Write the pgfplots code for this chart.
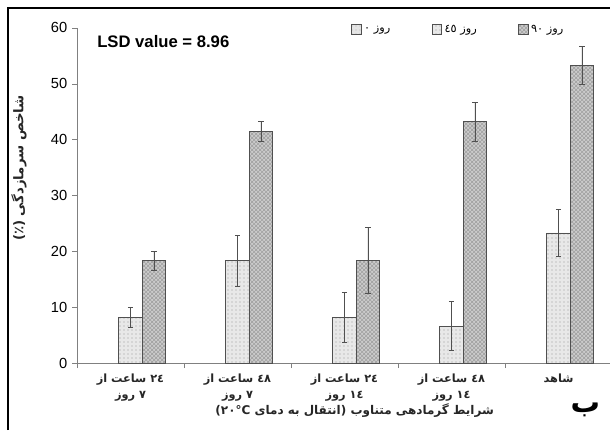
\documentclass[border=0pt]{standalone}
\usepackage{fontspec}
\setmainfont{Liberation Sans}
\newfontfamily\ar[Script=Arabic]{DejaVu Sans}
\TeXXeTstate=1
\usepackage{pgfplots}
\pgfplotsset{compat=1.18}
\usetikzlibrary{patterns}
\definecolor{axgray}{RGB}{128,128,128}
\definecolor{bardraw}{RGB}{80,80,80}
\pgfplotsset{myerr/.style={error bars/y dir=both, error bars/y explicit,
  error bars/error bar style={bardraw, line width=0.5pt},
  error bars/error mark options={rotate=90, mark size=2pt, bardraw, line width=0.5pt}}}
\begin{document}
\begin{tikzpicture}
\useasboundingbox (0,0) rectangle (457.5pt,322.5pt);
\draw[line width=1.9pt] (6pt,0pt) -- (6pt,316.5pt) -- (457.5pt,316.5pt);
\begin{axis}[
  at={(57.75pt,50.25pt)}, anchor=south west,
  scale only axis, width=401.25pt, height=251.4pt,
  xmin=0.5, xmax=5.5, ymin=0, ymax=60,
  axis x line=bottom, axis y line=left,
  axis line style={axgray, -},
  ybar, bar width=17.6pt,
  ytick={0,10,...,60},
  /pgf/number format/assume math mode=true,
  yticklabel style={font=\fontsize{11}{13}\selectfont, text=black},
  xtick={1,2,3,4,5},
  xticklabels={
    {\beginR\beginL ٢٤\endL{} ساعت از\endR\\\beginR ٧ روز\endR},
    {\beginR\beginL ٤٨\endL{} ساعت از\endR\\\beginR ٧ روز\endR},
    {\beginR\beginL ٢٤\endL{} ساعت از\endR\\\beginR\beginL ١٤\endL{} روز\endR},
    {\beginR\beginL ٤٨\endL{} ساعت از\endR\\\beginR\beginL ١٤\endL{} روز\endR},
    {\beginR شاهد\endR}},
  xticklabel style={font=\ar\bfseries\fontsize{8.5}{12}\selectfont, align=center, text=black!85, yshift=-1pt},
  minor xtick={0.5,1.5,2.5,3.5,4.5,5.5},
  every major x tick/.append style={draw=none},
  tick align=outside,
  major tick length=3.75pt, minor tick length=3.75pt,
  tick style={axgray},
  legend style={at={(0.505,0.995)}, anchor=west, draw=none, fill=none,
     font=\ar\fontsize{8.5}{10}\selectfont, legend columns=3,
     /tikz/every even column/.append style={column sep=29pt}},
  legend image code/.code={\draw[#1] (0pt,-3.6pt) rectangle (7.2pt,3.6pt);},
]
\addlegendimage{fill=gray!20, draw=bardraw, postaction={pattern=dots, pattern color=gray!60}}
\addlegendentry{\beginR روز ٠\endR}
\addplot[myerr, bar shift=0pt, fill=gray!18, draw=bardraw, line width=0.5pt,
  postaction={pattern=dots, pattern color=gray!80}]
  coordinates {(1,8.2) +- (0,1.8) (2,18.3) +- (0,4.5) (3,8.2) +- (0,4.5) (4,6.6) +- (0,4.4) (5,23.3) +- (0,4.2)};
\addlegendentry{\beginR روز \beginL٤٥\endL\endR}
\addplot[myerr, bar shift=17.6pt, fill=gray!40, draw=bardraw, line width=0.5pt,
  postaction={pattern=crosshatch, pattern color=gray!75}]
  coordinates {(1,18.3) +- (0,1.7) (2,41.5) +- (0,1.8) (3,18.3) +- (0,5.9) (4,43.2) +- (0,3.5) (5,53.3) +- (0,3.4)};
\addlegendentry{\beginR روز \beginL٩٠\endL\endR}
\end{axis}
\node[anchor=west, inner sep=0pt, font=\bfseries\fontsize{12.5}{14}\selectfont] at (72.75pt,291pt) {LSD value = 8.96};
\node[font=\ar\bfseries\fontsize{9}{11}\selectfont, text=black!85] at (266pt,15pt) {\beginR شرایط گرمادهی متناوب (انتقال به دمای \beginL٢٠°C\endL)\endR};
\node[rotate=90, font=\ar\bfseries\fontsize{10}{12}\selectfont, text=black!85] at (14.25pt,196.5pt) {\beginR شاخص سرمازدگی (٪)\endR};
\node[font=\ar\bfseries\fontsize{22}{24}\selectfont] at (439pt,15pt) {ب};
\end{tikzpicture}
\end{document}
